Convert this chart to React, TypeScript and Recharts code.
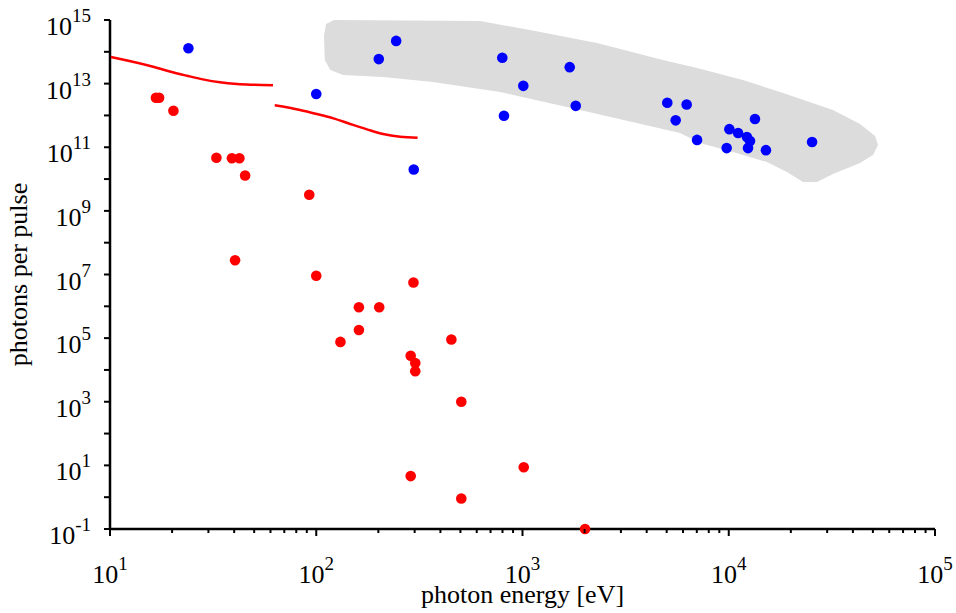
import { ScatterChart, Scatter, XAxis, YAxis } from 'recharts'

// measured sources (blue) and laboratory sources (red)
const blueEnergy = [24, 244, 201, 100, 297, 798, 1009, 813, 1694, 1812, 5035, 6250, 5530, 7020, 10070, 9770, 11100, 12250, 12680, 12400, 13400, 15150, 25350]
const bluePhotons = [1.3e14, 2.2e14, 5.9e13, 4.7e12, 2e10, 6.5e13, 8.5e12, 9.8e11, 3.3e13, 2e12, 2.5e12, 2.2e12, 7e11, 1.7e11, 3.7e11, 9.4e10, 2.8e11, 2.1e11, 1.57e11, 9.4e10, 7.7e11, 8.1e10, 1.46e11]

const redEnergy = [16.7, 17.3, 20.3, 32.8, 39, 42.4, 45.2, 92.5, 40.4, 100, 296, 161, 202, 161, 131, 452, 287, 302, 302, 505, 287, 505, 1014, 2010]
const redPhotons = [3.6e12, 3.6e12, 1.4e12, 4.7e10, 4.5e10, 4.5e10, 1.3e10, 3.2e9, 2.8e7, 9.1e6, 5.6e6, 9.3e5, 9.3e5, 1.8e5, 7.6e4, 9.1e4, 2.8e4, 1.65e4, 9.1e3, 1000, 4.6, 0.91, 8.7, 0.1]

// red curves
const curve1Energy = [10.1, 16.2, 19.5, 23.6, 28.2, 34.1, 41.3, 49.4, 61.7]
const curve1Photons = [6.9e13, 3.4e13, 2.4e13, 1.77e13, 1.36e13, 1.1e13, 9.7e12, 9.2e12, 8.9e12]
const curve2Energy = [62.9, 83.4, 100.4, 121, 146, 176, 211, 255, 310]
const curve2Photons = [2.08e12, 1.48e12, 1.11e12, 8.1e11, 5.4e11, 3.66e11, 2.6e11, 2.14e11, 1.99e11]

// outline of the grey band
const bandEnergy = [109, 111.5, 122, 622, 1087, 2296, 4797, 7015, 11720, 18330, 32000, 43300, 51200, 52950, 50050, 43300, 32000, 26800, 22900, 19150, 15310, 10480, 7256, 5807, 1901, 778, 368, 211, 135, 117, 110]
const bandPhotons = [3.14e14, 7.5e14, 1e15, 9.3e14, 4.85e14, 1.89e14, 5.5e13, 3.1e13, 1.3e13, 5.06e12, 1.48e12, 5.4e11, 2.25e11, 1.17e11, 5.7e10, 3.2e10, 1.44e10, 8.05e9, 8.05e9, 1.66e10, 3.43e10, 7.07e10, 1.36e11, 2.8e11, 1.48e12, 5.45e12, 1.12e13, 1.61e13, 1.86e13, 2.68e13, 5.5e13]

const xDecades = [10, 100, 1000, 10000, 100000]
const xMinorSteps = [2, 3, 4, 5, 6, 7, 8, 9]
const yExponents = [-1, 0, 1, 2, 3, 4, 5, 6, 7, 8, 9, 10, 11, 12, 13, 14, 15]

const toPoints = (xs: number[], ys: number[]) => xs.map((x, i) => ({ x, y: ys[i] }))

const bluePoints = toPoints(blueEnergy, bluePhotons)
const redPoints = toPoints(redEnergy, redPhotons)
const curve1 = toPoints(curve1Energy, curve1Photons)
const curve2 = toPoints(curve2Energy, curve2Photons)
const band = toPoints(bandEnergy, bandPhotons)

const xTicks: number[] = []
xDecades.forEach((d, i) => {
  xTicks.push(d)
  if (i < xDecades.length - 1) xMinorSteps.forEach((m) => xTicks.push(d * m))
})
const yTicks = yExponents.map((e) => Math.pow(10, e))

const FONT = '"Liberation Serif", "Times New Roman", serif'

function XTick(props: any) {
  const { x, y, payload } = props
  const lg = Math.log10(payload.value)
  const exp = Math.round(lg)
  const major = Math.abs(lg - exp) < 1e-6
  return (
    <g>
      <line x1={x} y1={y} x2={x} y2={y + (major ? 7 : 4)} stroke="#000" strokeWidth={2} />
      {major && (
        <text x={x} y={y + 54} textAnchor="middle" fontFamily={FONT} fill="#000">
          <tspan fontSize={26}>10</tspan>
          <tspan fontSize={19} dy={-13}>{exp}</tspan>
        </text>
      )}
    </g>
  )
}

function YTick(props: any) {
  const { x, y, payload } = props
  const exp = Math.round(Math.log10(payload.value))
  const labelled = Math.abs(exp % 2) === 1
  return (
    <g>
      <line x1={x - 6} y1={y} x2={x} y2={y} stroke="#000" strokeWidth={2} />
      {labelled && (
        <text x={x - 19} y={y + 15} textAnchor="end" fontFamily={FONT} fill="#000">
          <tspan fontSize={26}>10</tspan>
          <tspan fontSize={19} dy={-13}>{exp}</tspan>
        </text>
      )}
    </g>
  )
}

const dot = (color: string) => (p: any) => <circle cx={p.cx} cy={p.cy} r={5.3} fill={color} />
const noDot = () => null

export default function App() {
  return (
    <div style={{ position: 'absolute', left: 0, top: 0, background: '#fff' }}>
      <ScatterChart width={956} height={613} margin={{ top: 20, right: 21, bottom: 0, left: 10 }}>
        <XAxis
          dataKey="x"
          type="number"
          scale="log"
          domain={[10, 100000]}
          ticks={xTicks}
          interval={0}
          tick={(p: any) => <XTick {...p} />}
          tickLine={false}
          tickSize={0}
          tickMargin={0}
          axisLine={{ stroke: '#000', strokeWidth: 2.5 }}
          height={84}
          label={{
            content: (p: any) => {
              const vb = p.viewBox || { x: 110, y: 529, width: 825, height: 84 }
              return (
                <text x={vb.x + vb.width / 2} y={vb.y + 74} textAnchor="middle" fontSize={26} fontFamily={FONT} fill="#000">
                  photon energy [eV]
                </text>
              )
            },
          }}
        />
        <YAxis
          dataKey="y"
          type="number"
          scale="log"
          domain={[0.1, 1e15]}
          ticks={yTicks}
          interval={0}
          tick={(p: any) => <YTick {...p} />}
          tickLine={false}
          tickSize={0}
          tickMargin={0}
          axisLine={{ stroke: '#000', strokeWidth: 2.5 }}
          width={100}
          label={{
            content: (p: any) => {
              const vb = p.viewBox || { x: 10, y: 20, width: 100, height: 509 }
              const cx = vb.x + 17
              const cy = vb.y + vb.height / 2
              return (
                <text x={cx} y={cy} transform={`rotate(-90, ${cx}, ${cy})`} textAnchor="middle" fontSize={26} fontFamily={FONT} fill="#000">
                  photons per pulse
                </text>
              )
            },
          }}
        />
        <Scatter data={band} shape={noDot} line={{ fill: '#dcdcdc', stroke: 'none' }} lineJointType="linearClosed" isAnimationActive={false} />
        <Scatter data={curve1} shape={noDot} line={{ stroke: '#ff0000', strokeWidth: 2.5 }} lineJointType="monotoneX" isAnimationActive={false} />
        <Scatter data={curve2} shape={noDot} line={{ stroke: '#ff0000', strokeWidth: 2.5 }} lineJointType="monotoneX" isAnimationActive={false} />
        <Scatter data={bluePoints} shape={dot('#0000ff')} isAnimationActive={false} />
        <Scatter data={redPoints} shape={dot('#ff0000')} isAnimationActive={false} />
      </ScatterChart>
    </div>
  )
}
